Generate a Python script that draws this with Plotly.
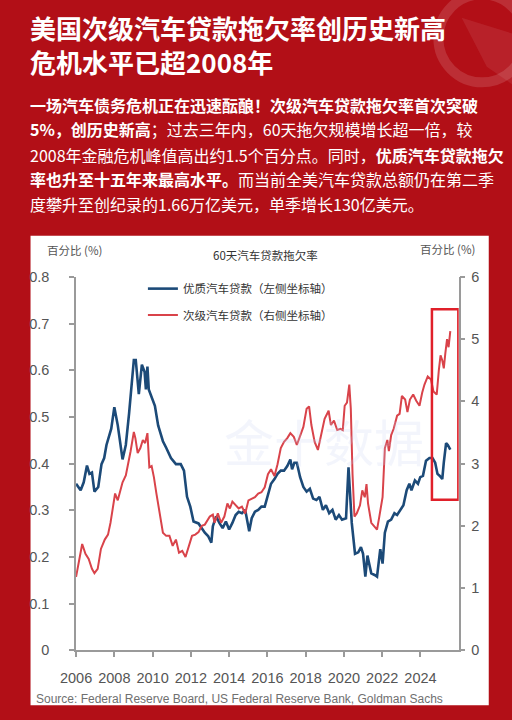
import plotly.graph_objects as go

W, H = 512, 720

# ---- data: 60-day auto loan delinquency rates (%) ----
prime_year = [
    2006.00, 2006.12, 2006.24, 2006.40, 2006.57, 2006.70, 2006.83, 2006.96, 2007.16, 2007.33,
    2007.47, 2007.59, 2007.75, 2007.84, 2008.00, 2008.18, 2008.43, 2008.60, 2008.77, 2008.94,
    2009.02, 2009.12, 2009.28, 2009.44, 2009.58, 2009.65, 2009.73, 2009.80, 2009.95, 2010.12,
    2010.29, 2010.54, 2010.71, 2010.96, 2011.22, 2011.47, 2011.64, 2011.80, 2011.97, 2012.14,
    2012.40, 2012.57, 2012.73, 2012.90, 2013.07, 2013.15, 2013.32, 2013.49, 2013.66, 2013.83,
    2014.00, 2014.17, 2014.34, 2014.50, 2014.67, 2014.84, 2015.05, 2015.18, 2015.35, 2015.52,
    2015.69, 2015.86, 2016.03, 2016.19, 2016.37, 2016.53, 2016.70, 2016.87, 2017.04, 2017.20,
    2017.29, 2017.41, 2017.54, 2017.71, 2017.88, 2018.05, 2018.22, 2018.39, 2018.56, 2018.72,
    2018.90, 2019.06, 2019.23, 2019.40, 2019.57, 2019.74, 2019.90, 2020.11, 2020.24, 2020.41,
    2020.58, 2020.75, 2020.89, 2021.00, 2021.12, 2021.23, 2021.34, 2021.43, 2021.63, 2021.73,
    2021.90, 2022.02, 2022.14, 2022.30, 2022.47, 2022.64, 2022.78, 2022.95, 2023.11, 2023.28,
    2023.42, 2023.53, 2023.71, 2023.87, 2023.99, 2024.13, 2024.29, 2024.47, 2024.63, 2024.77,
    2024.89, 2025.00, 2025.14, 2025.22, 2025.34, 2025.43, 2025.56,
]
prime_rate = [
    0.357, 0.350, 0.343, 0.360, 0.396, 0.378, 0.381, 0.340, 0.350, 0.399,
    0.412, 0.440, 0.461, 0.475, 0.521, 0.482, 0.409, 0.440, 0.507, 0.580,
    0.622, 0.622, 0.549, 0.612, 0.597, 0.559, 0.608, 0.559, 0.542, 0.524,
    0.482, 0.448, 0.434, 0.412, 0.399, 0.399, 0.385, 0.329, 0.308, 0.276,
    0.272, 0.262, 0.252, 0.245, 0.231, 0.266, 0.287, 0.273, 0.262, 0.276,
    0.259, 0.273, 0.290, 0.297, 0.294, 0.301, 0.255, 0.283, 0.297, 0.301,
    0.308, 0.308, 0.336, 0.357, 0.367, 0.378, 0.385, 0.385, 0.395, 0.409,
    0.388, 0.402, 0.402, 0.371, 0.350, 0.340, 0.346, 0.325, 0.322, 0.329,
    0.301, 0.311, 0.294, 0.301, 0.280, 0.290, 0.280, 0.283, 0.392, 0.273,
    0.207, 0.210, 0.221, 0.207, 0.158, 0.203, 0.182, 0.165, 0.161, 0.158,
    0.217, 0.186, 0.252, 0.276, 0.280, 0.294, 0.290, 0.301, 0.311, 0.343,
    0.357, 0.343, 0.364, 0.357, 0.371, 0.374, 0.406, 0.412, 0.412, 0.402,
    0.378, 0.374, 0.367, 0.402, 0.444, 0.440, 0.430,
]

subprime_year = [
    2006.00, 2006.15, 2006.32, 2006.49, 2006.66, 2006.83, 2006.96, 2007.13, 2007.30, 2007.50,
    2007.67, 2007.80, 2007.92, 2008.04, 2008.18, 2008.31, 2008.43, 2008.60, 2008.72, 2008.85,
    2009.02, 2009.10, 2009.22, 2009.36, 2009.49, 2009.61, 2009.73, 2009.83, 2009.95, 2010.07,
    2010.20, 2010.37, 2010.54, 2010.71, 2010.88, 2011.05, 2011.22, 2011.38, 2011.55, 2011.72,
    2011.89, 2012.06, 2012.23, 2012.40, 2012.57, 2012.73, 2012.99, 2013.15, 2013.24, 2013.41,
    2013.58, 2013.75, 2013.91, 2014.04, 2014.17, 2014.34, 2014.50, 2014.67, 2014.84, 2015.01,
    2015.18, 2015.35, 2015.52, 2015.69, 2015.86, 2016.03, 2016.19, 2016.37, 2016.53, 2016.70,
    2016.87, 2017.04, 2017.20, 2017.38, 2017.54, 2017.71, 2017.88, 2018.05, 2018.18, 2018.30,
    2018.47, 2018.64, 2018.81, 2018.99, 2019.20, 2019.32, 2019.48, 2019.65, 2019.82, 2019.94,
    2020.04, 2020.16, 2020.28, 2020.36, 2020.45, 2020.55, 2020.67, 2020.84, 2020.96, 2021.09,
    2021.18, 2021.26, 2021.43, 2021.59, 2021.73, 2021.85, 2022.02, 2022.14, 2022.27, 2022.35,
    2022.47, 2022.60, 2022.78, 2022.91, 2023.03, 2023.20, 2023.32, 2023.45, 2023.62, 2023.78,
    2023.95, 2024.09, 2024.21, 2024.38, 2024.55, 2024.68, 2024.85, 2024.96, 2025.05, 2025.14,
    2025.22, 2025.30, 2025.39, 2025.47, 2025.56,
]
subprime_rate = [
    1.18, 1.42, 1.71, 1.55, 1.47, 1.31, 1.24, 1.31, 1.63, 1.78,
    1.86, 2.05, 2.26, 2.52, 2.41, 2.57, 2.70, 2.81, 2.99, 3.20,
    3.51, 3.41, 3.17, 3.25, 3.38, 3.33, 3.49, 2.94, 2.96, 2.78,
    2.52, 2.20, 1.89, 1.84, 1.84, 1.68, 1.78, 1.57, 1.60, 1.50,
    1.68, 1.84, 1.86, 1.90, 2.00, 2.02, 2.15, 2.18, 2.05, 2.20,
    2.05, 2.15, 2.36, 2.28, 2.39, 2.33, 2.28, 2.31, 2.20, 2.41,
    2.44, 2.46, 2.52, 2.54, 2.62, 2.83, 2.91, 2.80, 2.99, 3.25,
    3.35, 3.41, 3.49, 3.43, 3.30, 3.43, 3.59, 3.88, 3.92, 3.62,
    3.35, 3.22, 3.46, 3.72, 3.85, 3.62, 3.69, 3.54, 3.56, 3.54,
    3.93, 3.98, 4.27, 3.88, 2.83, 2.15, 2.20, 2.33, 2.57, 2.46,
    2.67, 2.36, 2.05, 1.99, 1.94, 2.15, 2.46, 3.25, 3.38, 3.20,
    3.46, 3.56, 3.77, 3.80, 4.09, 4.03, 3.83, 4.03, 4.11, 4.01,
    3.93, 4.14, 4.27, 4.40, 4.35, 4.16, 4.11, 4.50, 4.74, 4.66,
    4.53, 4.77, 5.00, 4.87, 5.13,
]

x_ticks = [2006, 2008, 2010, 2012, 2014, 2016, 2018, 2020, 2022, 2024]
highlight_years = [2024.6, 2025.98]   # boxed recent period
highlight_range = [2.42, 5.48]        # on the right-hand axis

series_names = ["优质汽车贷款（左侧坐标轴）", "次级汽车贷款（右侧坐标轴）"]

title_lines = ["美国次级汽车贷款拖欠率创历史新高", "危机水平已超2008年"]
body_lines = [
    "<b>一场汽车债务危机正在迅速酝酿！次级汽车贷款拖欠率首次突破</b>",
    "<b>5%，创历史新高</b>；过去三年内，60天拖欠规模增长超一倍，较",
    "2008年金融危机峰值高出约1.5个百分点。同时，<b>优质汽车贷款拖欠</b>",
    "<b>率也升至十五年来最高水平。</b>而当前全美汽车贷款总额仍在第二季",
    "度攀升至创纪录的1.66万亿美元，单季增长130亿美元。",
]
chart_title = "60天汽车贷款拖欠率"
unit_label = "百分比 (%)"
source_text = "Source: Federal Reserve Board, US Federal Reserve Bank, Goldman Sachs"

# ---- styling ----
BG_RED = "#B20F17"
BLUE = "#1C4A78"
RED = "#D9434A"
AXIS = "#9a9a9a"
CJK = "Noto Sans CJK SC"
LATIN = "Liberation Sans"


def px(x):
    return x / W


def py(y):
    return 1 - y / H


fig = go.Figure()
fig.add_trace(go.Scatter(
    x=prime_year, y=prime_rate, mode="lines", name=series_names[0],
    line=dict(color=BLUE, width=2.6), yaxis="y", legend="legend",
))
fig.add_trace(go.Scatter(
    x=subprime_year, y=subprime_rate, mode="lines", name=series_names[1],
    line=dict(color=RED, width=2.0), yaxis="y2", legend="legend2",
))

shapes = [
    # white chart card
    dict(type="rect", xref="paper", yref="paper", x0=px(15), x1=px(488),
         y0=py(713), y1=py(233), fillcolor="white", line=dict(width=0), layer="below"),
    # decorative ring in the header corner
    dict(type="circle", xref="paper", yref="paper", x0=px(436), x1=px(526),
         y0=py(76), y1=py(-14), line=dict(color="rgba(255,255,255,0.13)", width=10),
         layer="below"),
    dict(type="path", xref="paper", yref="paper",
         path=f"M {px(460)} {py(10)} L {px(512)} {py(26)} L {px(512)} {py(78)} "
              f"L {px(486)} {py(60)} Z",
         fillcolor="rgba(255,255,255,0.08)", line=dict(width=0), layer="below"),
    # highlight box around the latest readings
    dict(type="rect", xref="x", yref="y2", x0=highlight_years[0], x1=highlight_years[1],
         y0=highlight_range[0], y1=highlight_range[1],
         line=dict(color="#E0202A", width=2.5), fillcolor="rgba(0,0,0,0)"),
]

annotations = [
    dict(text="<br>".join(f"<b>{t}</b>" for t in title_lines),
         x=px(12), y=py(37), xref="paper", yref="paper",
         xanchor="left", yanchor="middle", align="left", showarrow=False,
         font=dict(family=CJK, size=26, color="white")),
]
for txt, yc in zip(body_lines, [99, 124, 150, 175, 200]):
    annotations.append(dict(
        text=txt, x=px(12), y=py(yc), xref="paper", yref="paper",
        xanchor="left", yanchor="middle", showarrow=False,
        font=dict(family=CJK, size=16, color="white"),
    ))
annotations += [
    dict(text=unit_label, x=px(30), y=py(247), xref="paper", yref="paper",
         xanchor="left", yanchor="middle", showarrow=False,
         font=dict(family=CJK, size=11.5, color="#555")),
    dict(text=unit_label, x=px(476), y=py(246), xref="paper", yref="paper",
         xanchor="right", yanchor="middle", showarrow=False,
         font=dict(family=CJK, size=11.5, color="#555")),
    dict(text=chart_title, x=px(258), y=py(253), xref="paper", yref="paper",
         xanchor="center", yanchor="middle", showarrow=False,
         font=dict(family=CJK, size=11.5, color="#333")),
    dict(text=source_text, x=px(231), y=py(707), xref="paper", yref="paper",
         xanchor="center", yanchor="middle", showarrow=False,
         font=dict(family=LATIN, size=12, color="#707070")),
    # faint watermark
    dict(text="金十数据", x=px(318), y=py(442), xref="paper", yref="paper",
         xanchor="center", yanchor="middle", showarrow=False,
         font=dict(family=CJK, size=50, color="rgba(200,208,240,0.22)")),
]

legend_font = dict(family=CJK, size=11.5, color="#333")
tick_font = dict(family=LATIN, size=14.5, color="#555")
fig.update_layout(
    width=W, height=H,
    margin=dict(l=0, r=0, t=0, b=0),
    paper_bgcolor=BG_RED,
    plot_bgcolor="rgba(0,0,0,0)",
    showlegend=True,
    legend=dict(x=px(131), y=py(287), xanchor="left", yanchor="middle",
                bgcolor="rgba(0,0,0,0)", font=legend_font, itemwidth=30),
    legend2=dict(x=px(131), y=py(314), xanchor="left", yanchor="middle",
                 bgcolor="rgba(0,0,0,0)", font=legend_font, itemwidth=30),
    xaxis=dict(
        domain=[px(62), px(457)], range=[2006, 2026],
        tickvals=x_ticks, ticktext=[str(t) for t in x_ticks],
        showline=True, linecolor=AXIS, linewidth=1.5,
        ticks="outside", ticklen=5, tickcolor=AXIS, tickwidth=1.5,
        ticklabelstandoff=8,
        showgrid=False, zeroline=False, tickfont=tick_font,
    ),
    yaxis=dict(
        domain=[py(657), py(275)], range=[0, 0.8], dtick=0.1,
        showline=True, linecolor=AXIS, linewidth=1.5,
        ticks="outside", ticklen=5, tickcolor=AXIS, tickwidth=1.5,
        ticklabelstandoff=17,
        showgrid=False, zeroline=False, tickfont=tick_font,
    ),
    yaxis2=dict(
        overlaying="y", side="right", range=[0, 6], dtick=1,
        showline=True, linecolor=AXIS, linewidth=1.5,
        ticks="outside", ticklen=5, tickcolor=AXIS, tickwidth=1.5,
        ticklabelstandoff=3,
        showgrid=False, zeroline=False, tickfont=tick_font,
    ),
    shapes=shapes,
    annotations=annotations,
)

fig.write_html("out.html")
